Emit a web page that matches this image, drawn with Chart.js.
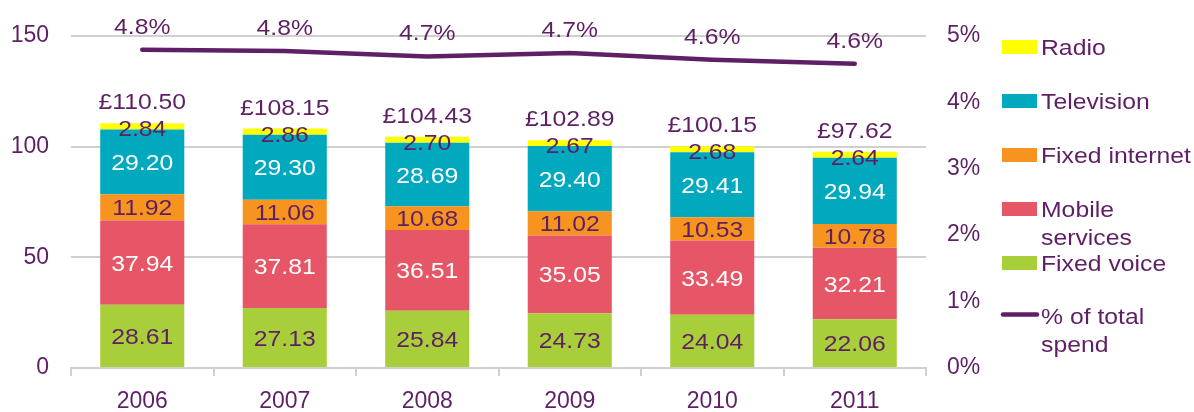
<!DOCTYPE html>
<html>
<head>
<meta charset="utf-8">
<script src="https://cdn.jsdelivr.net/npm/chart.js@4.4.1/dist/chart.umd.min.js"></script>
<style>
  html, body { margin: 0; padding: 0; background: #ffffff; }
  #wrap { width: 1194px; height: 412px; position: relative; }
</style>
</head>
<body>
<div id="wrap"><canvas id="c" width="1194" height="412"></canvas></div>
<script>
// ---- data ----
const years = ['2006', '2007', '2008', '2009', '2010', '2011'];
const fixedVoice    = [28.61, 27.13, 25.84, 24.73, 24.04, 22.06];
const mobile        = [37.94, 37.81, 36.51, 35.05, 33.49, 32.21];
const fixedInternet = [11.92, 11.06, 10.68, 11.02, 10.53, 10.78];
const television    = [29.20, 29.30, 28.69, 29.40, 29.41, 29.94];
const radio         = [2.84, 2.86, 2.70, 2.67, 2.68, 2.64];
const totals        = [110.50, 108.15, 104.43, 102.89, 100.15, 97.62];
const pctOfSpend    = [4.79, 4.77, 4.69, 4.74, 4.64, 4.58];
const leftTicks     = [0, 50, 100, 150];
const rightTicks    = [0, 1, 2, 3, 4, 5];

const PURPLE = '#5e1f64';
const FONT = '"Liberation Sans", Arial, sans-serif';
const FS = 22.5;
const STRETCH = 1.1;

function drawText(ctx, text, x, cy, color) {
  ctx.save();
  ctx.font = FS + 'px ' + FONT;
  ctx.fillStyle = color;
  ctx.textAlign = 'center';
  ctx.textBaseline = 'alphabetic';
  ctx.translate(x, cy + FS * 0.358);
  ctx.scale(STRETCH, 1);
  ctx.fillText(text, 0, 0);
  ctx.restore();
}
function drawTextLeft(ctx, text, x, cy, color) {
  ctx.save();
  ctx.font = FS + 'px ' + FONT;
  ctx.fillStyle = color;
  ctx.textAlign = 'left';
  ctx.textBaseline = 'alphabetic';
  ctx.translate(x, cy + FS * 0.358);
  ctx.scale(STRETCH, 1);
  ctx.fillText(text, 0, 0);
  ctx.restore();
}

const labelPlugin = {
  id: 'labels',
  afterDatasetsDraw(chart) {
    const ctx = chart.ctx;
    const labelColors = ['#5e1f64', '#ffffff', '#5e1f64', '#ffffff', '#5e1f64'];
    for (let d = 0; d < 5; d++) {
      const meta = chart.getDatasetMeta(d);
      const ds = chart.data.datasets[d];
      meta.data.forEach((bar, i) => {
        const top = Math.min(bar.y, bar.base), bot = Math.max(bar.y, bar.base);
        let cy = (top + bot) / 2;
        if (d === 4) cy += 2;
        drawText(ctx, ds.data[i].toFixed(2), bar.x, cy, labelColors[d]);
      });
    }
    // totals above the bars
    const topMeta = chart.getDatasetMeta(4);
    topMeta.data.forEach((bar, i) => {
      drawText(ctx, '£' + totals[i].toFixed(2), bar.x, Math.min(bar.y, bar.base) - 22, PURPLE);
    });
    // line labels
    const lineMeta = chart.getDatasetMeta(5);
    lineMeta.data.forEach((pt, i) => {
      drawText(ctx, pctOfSpend[i].toFixed(1) + '%', pt.x, pt.y - 24, PURPLE);
    });
  },
  afterDraw(chart) {
    const ctx = chart.ctx;
    const items = [
      { ds: 4, lines: ['Radio'], y: 47 },
      { ds: 3, lines: ['Television'], y: 101 },
      { ds: 2, lines: ['Fixed internet'], y: 155 },
      { ds: 1, lines: ['Mobile', 'services'], y: 209 },
      { ds: 0, lines: ['Fixed voice'], y: 263 },
    ];
    items.forEach(it => {
      ctx.fillStyle = chart.data.datasets[it.ds].backgroundColor;
      ctx.fillRect(1002, it.y - 7, 35, 14);
      it.lines.forEach((t, k) => drawTextLeft(ctx, t, 1041, it.y + k * 28, PURPLE));
    });
    ctx.save();
    ctx.strokeStyle = chart.data.datasets[5].borderColor;
    ctx.lineWidth = 4.5;
    ctx.lineCap = 'round';
    ctx.beginPath();
    ctx.moveTo(1003, 314.5);
    ctx.lineTo(1037, 314.5);
    ctx.stroke();
    ctx.restore();
    drawTextLeft(ctx, '% of total', 1041, 316, PURPLE);
    drawTextLeft(ctx, 'spend', 1041, 344, PURPLE);
  }
};

const barCommon = { stack: 's', yAxisID: 'y', categoryPercentage: 1.0, barPercentage: 0.59, borderWidth: 0, order: 2 };

new Chart(document.getElementById('c'), {
  type: 'bar',
  data: {
    labels: years,
    datasets: [
      Object.assign({ label: 'Fixed voice', data: fixedVoice, backgroundColor: '#a8ce39' }, barCommon),
      Object.assign({ label: 'Mobile services', data: mobile, backgroundColor: '#e65667' }, barCommon),
      Object.assign({ label: 'Fixed internet', data: fixedInternet, backgroundColor: '#f7941f' }, barCommon),
      Object.assign({ label: 'Television', data: television, backgroundColor: '#00a9bd' }, barCommon),
      Object.assign({ label: 'Radio', data: radio, backgroundColor: '#ffff00' }, barCommon),
      {
        type: 'line', label: '% of total spend', data: pctOfSpend, yAxisID: 'y2',
        borderColor: '#5e1f64', borderWidth: 4.5, pointRadius: 0, tension: 0,
        borderCapStyle: 'round', borderJoinStyle: 'round', fill: false, order: 1
      }
    ]
  },
  options: {
    responsive: false,
    animation: false,
    devicePixelRatio: 1,
    layout: { padding: { top: 35, left: 0, right: 0, bottom: 0 } },
    plugins: { legend: { display: false }, tooltip: { enabled: false } },
    scales: {
      x: {
        stacked: true,
        grid: { display: true, drawOnChartArea: false, drawTicks: true, tickLength: 8, color: '#d0d0d0', lineWidth: 2, offset: true },
        border: { display: true, color: '#d0d0d0', width: 2 },
        ticks: { color: PURPLE, font: { family: FONT, size: 23 }, padding: 12, maxRotation: 0 },
        afterFit(s) { s.height = 44; }
      },
      y: {
        stacked: true, position: 'left', min: 0, max: 150,
        afterBuildTicks(s) { s.ticks = leftTicks.map(v => ({ value: v })); },
        grid: { color: '#d0d0d0', lineWidth: 2, drawTicks: false },
        border: { display: false },
        ticks: { color: PURPLE, font: { family: FONT, size: 23 }, padding: 22 },
        afterFit(s) { s.width = 71; }
      },
      y2: {
        position: 'right', min: 0, max: 5,
        afterBuildTicks(s) { s.ticks = rightTicks.map(v => ({ value: v })); },
        grid: { display: false, drawTicks: false },
        border: { display: false },
        ticks: { color: PURPLE, font: { family: FONT, size: 23 }, padding: 21, callback: v => v + '%' },
        afterFit(s) { s.width = 268; }
      }
    }
  },
  plugins: [labelPlugin]
});
</script>
</body>
</html>
